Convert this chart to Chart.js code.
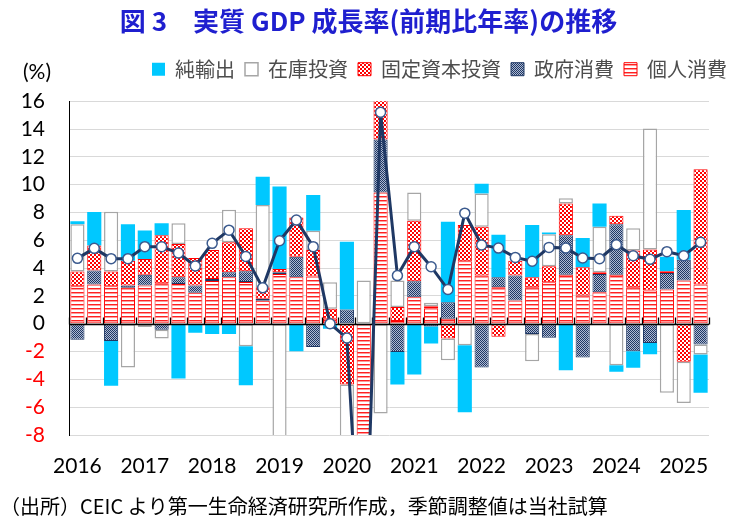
<!DOCTYPE html>
<html lang="ja">
<head>
<meta charset="utf-8">
<script src="https://cdn.jsdelivr.net/npm/chart.js@4.4.1/dist/chart.umd.min.js"></script>
<style>
  html, body { margin: 0; padding: 0; background: #fff; }
</style>
</head>
<body>
<canvas id="chart" width="737" height="520"></canvas>
<script>
// quarters shown on the x axis (year label only on Q1)
const quarters = [
  '2016Q1', '2016Q2', '2016Q3', '2016Q4',
  '2017Q1', '2017Q2', '2017Q3', '2017Q4',
  '2018Q1', '2018Q2', '2018Q3', '2018Q4',
  '2019Q1', '2019Q2', '2019Q3', '2019Q4',
  '2020Q1', '2020Q2', '2020Q3', '2020Q4',
  '2021Q1', '2021Q2', '2021Q3', '2021Q4',
  '2022Q1', '2022Q2', '2022Q3', '2022Q4',
  '2023Q1', '2023Q2', '2023Q3', '2023Q4',
  '2024Q1', '2024Q2', '2024Q3', '2024Q4',
  '2025Q1', '2025Q2'
];

// contributions (% pt)
const privateConsumption = [
  2.7, 2.82, 2.7, 2.58, 2.74, 2.91, 2.86, 2.22, 3.08, 3.34, 3.0, 1.65,
  3.58, 3.34, 3.4, 0.36, 0, -25, 9.43, 0.2, 1.91, 1.12, 0.36, 4.49,
  3.46, 2.63, 1.67, 2.63, 2.98, 3.53, 2.03, 2.27, 3.53, 2.63, 2.39, 2.46,
  3.1, 2.82
];
const govConsumption = [
  -1.15, 1.0, -1.24, 0.16, 0.79, -0.43, 0.48, 0.53, 0.14, 0.36, 0.78, 0.14,
  0.12, 1.48, -1.67, 0, 1.03, 0, 3.82, -2.03, 1.15, -0.19, 1.19, 0,
  -3.15, 0.71, 1.79, -0.74, -1.0, 2.84, -2.42, 1.31, 3.63, -1.98, -1.38, 1.19,
  1.5, -1.5
];
const fixedInvestment = [
  1.05, 1.8, 1.05, 1.79, 1.12, 3.46, 2.39, 1.98, 2.08, 2.15, 3.09, 0.84,
  0.24, 2.82, 1.9, 0.71, -4.37, 0, 3.0, 1.0, 4.34, 0.14, -1.07, 2.6,
  3.51, -0.93, 1.07, 0.71, 1.15, 2.27, 2.03, 0.12, 0.6, 2.63, 2.94, 0.12,
  -2.74, 8.28
];
const inventory = [
  3.41, 0, 4.3, -3.15, -0.24, -0.64, 1.5, 0, 0, 2.34, -1.62, 5.9,
  -9, 0, 1.38, 1.91, -5, 3.1, -6.45, 1.91, 2.03, 0.24, -1.55, -1.55,
  2.39, 0, 0, -1.95, 2.31, 0.38, 0, 3.27, -2.98, 1.6, 8.71, -4.96,
  -2.96, -0.72
];
const netExports = [
  0.21, 2.42, -3.22, 2.63, 2.06, 0.86, -3.94, -0.64, -0.73, -0.73, -2.8, 2.03,
  5.92, -1.98, 2.58, -0.36, 4.87, 0, 0, -2.34, -3.65, -1.24, 5.78, -4.82,
  0.71, 3.06, 0, 3.75, 0.12, -3.34, 2.1, 1.67, -0.48, -1.19, -0.81, 1.05,
  3.58, -2.75
];
// real GDP growth (q/q annualised, %)
const gdpGrowth = [
  4.7, 5.42, 4.68, 4.68, 5.54, 5.54, 5.08, 4.15, 5.78, 6.73, 4.84, 2.58,
  5.97, 7.45, 5.54, 0.0, -1.03, -22, 15.2, 3.46, 5.54, 4.1, 2.46, 7.95,
  5.66, 5.44, 4.77, 4.49, 5.49, 5.44, 4.73, 4.68, 5.68, 4.89, 4.63, 5.18,
  4.89, 5.85
];

const jpFont = "'Noto Sans CJK JP', 'Noto Sans', sans-serif";
const numFont = "Lato, 'Liberation Sans', sans-serif";

// small repeating fills like the excel patterns
const makePattern = (size, draw) => {
  const c = document.createElement('canvas');
  c.width = size;
  c.height = size;
  const g = c.getContext('2d');
  draw(g);
  return g.createPattern(c, 'repeat');
};

const stripeRed = makePattern(4, g => {
  g.fillStyle = '#ffffff';
  g.fillRect(0, 0, 4, 4);
  g.fillStyle = '#ff2020';
  g.fillRect(0, 0, 4, 1);
  g.fillStyle = '#ff9a9a';
  g.fillRect(0, 1, 4, 1);
});

const checkRed = makePattern(4, g => {
  g.fillStyle = '#ffffff';
  g.fillRect(0, 0, 4, 4);
  g.fillStyle = '#ff0000';
  g.fillRect(0, 0, 2, 2);
  g.fillRect(2, 2, 2, 2);
});

const dotNavy = makePattern(2, g => {
  g.fillStyle = '#aeb9d2';
  g.fillRect(0, 0, 2, 2);
  g.fillStyle = '#1f3864';
  g.fillRect(0, 0, 1, 1);
  g.fillRect(1, 1, 1, 1);
});

const barCommon = {
  stack: 'parts',
  order: 1,
  clip: 0,
  barPercentage: 0.84,
  categoryPercentage: 1.0,
  borderSkipped: false
};

const datasets = [
  { ...barCommon, label: '個人消費', data: privateConsumption, backgroundColor: stripeRed, borderColor: '#ff0000', borderWidth: 1 },
  { ...barCommon, label: '政府消費', data: govConsumption, backgroundColor: dotNavy, borderColor: '#1f3864', borderWidth: 1 },
  { ...barCommon, label: '固定資本投資', data: fixedInvestment, backgroundColor: checkRed, borderColor: '#ff0000', borderWidth: 1 },
  { ...barCommon, label: '在庫投資', data: inventory, backgroundColor: '#ffffff', borderColor: '#a6a6a6', borderWidth: 1.5 },
  { ...barCommon, label: '純輸出', data: netExports, backgroundColor: '#00c8ff', borderColor: '#00c8ff', borderWidth: 0 },
  {
    type: 'line',
    label: '実質GDP成長率',
    data: gdpGrowth,
    stack: 'gdp',
    order: 0,
    borderColor: '#1f3864',
    borderWidth: 3,
    tension: 0,
    pointRadius: 5,
    pointBackgroundColor: '#ffffff',
    pointBorderColor: '#3b5a8e',
    pointBorderWidth: 1.5
  }
];
const lineIndex = datasets.length - 1;

// zero line with small category ticks, and the (%) unit label
const axisExtras = {
  id: 'axisExtras',
  beforeDatasetDraw(chart, args) {
    if (args.index !== lineIndex) return;
    const { ctx, chartArea, scales } = chart;
    const x = scales.x;
    const y0 = Math.round(scales.y.getPixelForValue(0)) + 0.5;
    const step = x.getPixelForValue(1) - x.getPixelForValue(0);
    ctx.save();
    ctx.strokeStyle = '#000000';
    ctx.lineWidth = 1.3;
    ctx.beginPath();
    ctx.moveTo(chartArea.left, y0);
    ctx.lineTo(chartArea.right, y0);
    for (let i = 0; i <= quarters.length; i++) {
      const px = Math.round(x.getPixelForValue(i) - step / 2) + 0.5;
      ctx.moveTo(px, y0);
      ctx.lineTo(px, y0 - 7);
    }
    ctx.stroke();
    ctx.restore();
  },
  afterDraw(chart) {
    const { ctx, chartArea, scales } = chart;
    ctx.save();
    ctx.font = `21px ${numFont}`;
    ctx.fillStyle = '#000000';
    ctx.textAlign = 'center';
    ctx.textBaseline = 'middle';
    ctx.fillText('(%)', scales.y.right - 32, chartArea.top - 29);
    ctx.restore();
  }
};

new Chart(document.getElementById('chart'), {
  type: 'bar',
  data: { labels: quarters, datasets },
  plugins: [axisExtras],
  options: {
    responsive: false,
    animation: false,
    layout: { padding: 0 },
    plugins: {
      title: {
        display: true,
        text: '図 3　実質 GDP 成長率(前期比年率)の推移',
        color: '#1f1fcf',
        font: { family: jpFont, size: 26, weight: 'bold' },
        padding: { top: 6, bottom: 12 }
      },
      subtitle: {
        display: true,
        position: 'bottom',
        align: 'start',
        text: '（出所）CEIC より第一生命経済研究所作成，季節調整値は当社試算',
        color: '#000000',
        font: { family: jpFont, size: 20 },
        padding: { top: 6, bottom: 2 }
      },
      legend: {
        position: 'top',
        align: 'end',
        reverse: true,
        labels: {
          filter: item => item.datasetIndex !== lineIndex,
          boxWidth: 13,
          boxHeight: 13,
          padding: 10,
          color: '#4d4d4d',
          font: { family: jpFont, size: 20 }
        }
      },
      tooltip: { enabled: false }
    },
    scales: {
      x: {
        stacked: true,
        grid: { display: false, drawTicks: false },
        border: { display: false },
        ticks: {
          autoSkip: false,
          maxRotation: 0,
          padding: 19,
          color: '#000000',
          font: { family: numFont, size: 21 },
          callback: function (value) {
            const q = this.getLabelForValue(value);
            return q.endsWith('Q1') ? q.slice(0, 4) : '';
          }
        },
        afterFit: scale => { scale.height = 53; }
      },
      xTop: {
        type: 'linear',
        position: 'top',
        grid: { display: false },
        ticks: { display: false },
        border: { display: false },
        afterFit: scale => { scale.height = 12; }
      },
      y: {
        stacked: true,
        min: -8,
        max: 16,
        ticks: {
          stepSize: 2,
          autoSkip: false,
          padding: 24,
          font: { family: numFont, size: 21 },
          color: c => (c.tick.value < 0 ? '#ff0000' : '#000000')
        },
        grid: { color: '#d9d9d9', drawTicks: false },
        border: { display: true, color: '#000000', width: 1 },
        afterFit: scale => { scale.width = 69; }
      },
      yRight: {
        type: 'linear',
        position: 'right',
        grid: { display: false },
        ticks: { display: false },
        border: { display: false },
        afterFit: scale => { scale.width = 28; }
      }
    }
  }
});
</script>
</body>
</html>
